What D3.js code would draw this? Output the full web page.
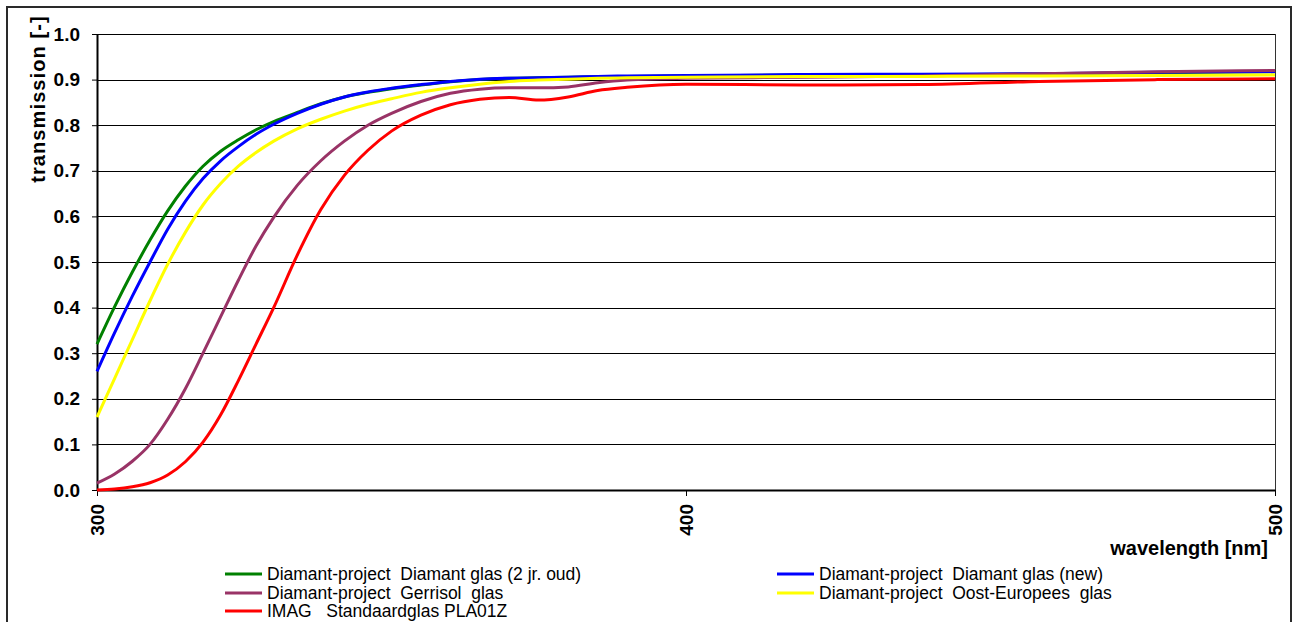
<!DOCTYPE html>
<html>
<head>
<meta charset="utf-8">
<script src="https://cdn.jsdelivr.net/npm/d3@7"></script>
<style>
    body { margin: 0; background: #fff; }
    text { font-family: Arial, "Liberation Sans", sans-serif; fill: #000; }
    .tick-label { font-weight: bold; font-size: 19px; }
    .axis-title { font-weight: bold; font-size: 20px; }
    .legend-label { font-size: 17.5px; white-space: pre; }
</style>
</head>
<body>
<div id="chart"></div>
<script>
// wavelength samples [nm]
const wavelengths = [300, 303, 306, 309, 312, 315, 318, 321, 324, 327, 330, 334, 338, 342, 346, 350,
    355, 360, 365, 370, 375, 380, 385, 390, 400, 420, 440, 460, 480, 500];

// transmission values
const diamantOud = [0.32, 0.402, 0.478, 0.548, 0.612, 0.666, 0.71, 0.743, 0.768, 0.79, 0.808, 0.828, 0.847, 0.862, 0.872, 0.880,
    0.888, 0.895, 0.900, 0.903, 0.904, 0.905, 0.906, 0.907, 0.908, 0.910, 0.911, 0.912, 0.915, 0.917];
const diamantNew = [0.26, 0.345, 0.425, 0.50, 0.572, 0.633, 0.683, 0.722, 0.753, 0.78, 0.802, 0.826, 0.846, 0.862, 0.873, 0.881,
    0.889, 0.896, 0.901, 0.903, 0.904, 0.905, 0.907, 0.908, 0.909, 0.911, 0.912, 0.913, 0.916, 0.918];
const gerrisol = [0.015, 0.035, 0.063, 0.10, 0.155, 0.222, 0.30, 0.38, 0.46, 0.535, 0.598, 0.668, 0.722, 0.765, 0.80, 0.826,
    0.852, 0.870, 0.879, 0.882, 0.882, 0.884, 0.893, 0.899, 0.903, 0.905, 0.908, 0.913, 0.917, 0.920];
const oostEuropees = [0.16, 0.245, 0.33, 0.415, 0.495, 0.565, 0.625, 0.672, 0.71, 0.74, 0.765, 0.792, 0.813, 0.831, 0.846, 0.858,
    0.872, 0.882, 0.89, 0.896, 0.899, 0.901, 0.903, 0.904, 0.905, 0.907, 0.907, 0.908, 0.909, 0.910];
const standaard = [0.0, 0.002, 0.007, 0.016, 0.033, 0.062, 0.105, 0.165, 0.24, 0.32, 0.40, 0.515, 0.615, 0.69, 0.745, 0.787,
    0.822, 0.845, 0.857, 0.861, 0.855, 0.862, 0.876, 0.883, 0.890, 0.888, 0.889, 0.896, 0.900, 0.902];

const seriesNames = [
    'Diamant-project  Diamant glas (2 jr. oud)',
    'Diamant-project  Diamant glas (new)',
    'Diamant-project  Gerrisol  glas',
    'Diamant-project  Oost-Europees  glas',
    'IMAG   Standaardglas PLA01Z'
];
const seriesValues = [diamantOud, diamantNew, gerrisol, oostEuropees, standaard];
const seriesColors = ['#008000', '#0000ff', '#993366', '#ffff00', '#ff0000'];

const yTicks = [0, 0.1, 0.2, 0.3, 0.4, 0.5, 0.6, 0.7, 0.8, 0.9, 1.0];
const xTicks = [300, 400, 500];

const width = 1293, height = 622;
const margin = {top: 34, right: 18, bottom: 132, left: 97};
const innerW = width - margin.left - margin.right;
const innerH = height - margin.top - margin.bottom;

const svg = d3.select('#chart').append('svg')
    .attr('width', width)
    .attr('height', height);

// outer frame of the chart object
svg.append('rect')
    .attr('x', 7).attr('y', 7)
    .attr('width', 1284).attr('height', 700)
    .attr('fill', 'none')
    .attr('stroke', '#2a2a2a')
    .attr('stroke-width', 2);

const chart = svg.append('g')
    .attr('transform', `translate(${margin.left},${margin.top})`);

const xScale = d3.scaleLinear().domain([300, 500]).range([0, innerW]);
const yScale = d3.scaleLinear().domain([0, 1]).range([innerH, 0]);

// horizontal gridlines
chart.append('g')
    .selectAll('line')
    .data(yTicks.slice(1))
    .join('line')
    .attr('x1', 0).attr('x2', innerW)
    .attr('y1', d => Math.round(yScale(d)) + 0.5)
    .attr('y2', d => Math.round(yScale(d)) + 0.5)
    .attr('stroke', '#000')
    .attr('stroke-width', 1);

// right border of plot area
chart.append('line')
    .attr('x1', innerW + 0.5).attr('x2', innerW + 0.5)
    .attr('y1', 0).attr('y2', innerH)
    .attr('stroke', '#333');

// y axis
const yAxis = d3.axisLeft(yScale)
    .tickValues(yTicks)
    .tickFormat(d3.format('.1f'))
    .tickSize(5)
    .tickSizeOuter(0);
const yAxisG = chart.append('g').call(yAxis);
yAxisG.select('.domain').attr('stroke', '#000').attr('stroke-width', 2);
yAxisG.selectAll('.tick line').attr('stroke', '#000');
yAxisG.selectAll('.tick text')
    .attr('class', 'tick-label')
    .attr('x', -17)
    .attr('font-family', null).attr('font-size', null);

// x axis
const xAxis = d3.axisBottom(xScale)
    .tickValues(xTicks)
    .tickSize(6)
    .tickSizeOuter(0);
const xAxisG = chart.append('g')
    .attr('transform', `translate(0,${innerH})`)
    .call(xAxis);
xAxisG.select('.domain').attr('stroke', '#000').attr('stroke-width', 2);
xAxisG.selectAll('.tick line').attr('stroke', '#000');
xAxisG.selectAll('.tick text')
    .attr('class', 'tick-label')
    .attr('font-family', null).attr('font-size', null)
    .attr('x', 0).attr('y', 0).attr('dy', null)
    .attr('transform', 'translate(0,14) rotate(-90)')
    .style('text-anchor', 'end')
    .attr('dominant-baseline', 'central');

// lines
const line = d3.line()
    .x(d => xScale(d[0]))
    .y(d => yScale(d[1]))
    .curve(d3.curveMonotoneX);

chart.append('g')
    .selectAll('path')
    .data(seriesValues)
    .join('path')
    .attr('fill', 'none')
    .attr('stroke', (d, i) => seriesColors[i])
    .attr('stroke-width', 3)
    .attr('d', d => line(wavelengths.map((w, j) => [w, d[j]])));

// axis titles
svg.append('text')
    .attr('class', 'axis-title')
    .attr('transform', 'translate(45,99) rotate(-90)')
    .style('text-anchor', 'middle')
    .style('letter-spacing', '1.1px')
    .text('transmission [-]');

svg.append('text')
    .attr('class', 'axis-title')
    .attr('x', 1268)
    .attr('y', 555)
    .style('text-anchor', 'end')
    .text('wavelength [nm]');

// legend, two columns
const legendPos = [
    {x: 225, y: 574}, {x: 777, y: 574},
    {x: 225, y: 593}, {x: 777, y: 593},
    {x: 225, y: 611}
];
const legend = svg.append('g')
    .selectAll('g')
    .data(seriesNames)
    .join('g')
    .attr('transform', (d, i) => `translate(${legendPos[i].x},${legendPos[i].y})`);

legend.append('line')
    .attr('x1', 0).attr('x2', 37)
    .attr('stroke', (d, i) => seriesColors[i])
    .attr('stroke-width', 3);

legend.append('text')
    .attr('class', 'legend-label')
    .attr('x', 42)
    .attr('dy', '0.35em')
    .text(d => d);
</script>
</body>
</html>
